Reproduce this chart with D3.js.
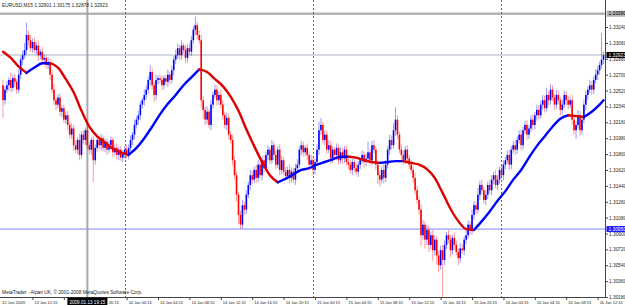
<!DOCTYPE html>
<html>
<head>
<meta charset="utf-8">
<script src="https://cdn.jsdelivr.net/npm/d3@7"></script>
<style>
	body { margin: 0; background: #fff; overflow: hidden; }
	svg { display: block; font-family: 'Liberation Sans', Arial, sans-serif; }
</style>
</head>
<body>
<svg id="chart" width="625" height="305"></svg>
<script>
// prices are kept in pips above 1.3000 (so 292 = 1.32920)
const firstOpen = 258

// M15 closes, one line = 16 bars = 4 hours, starting 13 Jan 08:30
const closes = [
	241, 253, 258, 264, 255, 266, 262, 253, 270, 287, 292, 298, 315, 309, 300, 307,
	298, 303, 292, 296, 287, 289, 281, 284, 270, 253, 241, 236, 244, 228, 232, 219,
	224, 213, 202, 209, 190, 185, 196, 179, 202, 196, 207, 190, 185, 196, 173, 187,
	196, 190, 198, 187, 194, 185, 190, 196, 182, 187, 179, 185, 176, 181, 185, 179,
	187, 196, 202, 213, 219, 224, 236, 241, 247, 253, 264, 273, 258, 247, 264, 266,
	264, 258, 266, 262, 270, 264, 275, 287, 292, 300, 292, 303, 298, 289, 300, 296,
	309, 321, 326, 315, 309, 241, 230, 219, 228, 213, 236, 247, 253, 241, 247, 236,
	224, 213, 221, 202, 196, 173, 156, 134, 111, 100, 122, 117, 134, 145, 156, 151,
	162, 153, 168, 156, 173, 164, 179, 185, 173, 190, 179, 168, 185, 162, 173, 160,
	155, 162, 153, 160, 151, 164, 168, 185, 190, 182, 187, 179, 168, 173, 162, 171,
	185, 207, 213, 196, 202, 185, 190, 175, 185, 179, 187, 173, 182, 175, 185, 171,
	168, 162, 171, 164, 160, 168, 173, 179, 171, 175, 182, 173, 190, 185, 168, 156,
	151, 162, 153, 168, 185, 196, 190, 207, 219, 202, 185, 179, 173, 185, 175, 168,
	162, 153, 139, 128, 117, 88, 100, 83, 94, 77, 88, 71, 83, 65, 54, 71,
	60, 77, 88, 83, 71, 85, 77, 69, 62, 73, 71, 83, 88, 100, 94, 111,
	122, 117, 134, 145, 139, 128, 134, 145, 139, 151, 156, 145, 151, 162, 156, 168,
	173, 179, 168, 185, 190, 185, 196, 202, 190, 207, 213, 202, 209, 219, 213, 224,
	230, 224, 236, 241, 232, 247, 241, 253, 244, 236, 247, 241, 230, 236, 247, 241,
	236, 241, 219, 207, 213, 224, 207, 219, 236, 247, 253, 258, 253, 264, 270, 275,
	281, 287, 292
]

// shadow lengths above / below the body, pips
const wickUp = [
	6, 4, 5, 3, 8, 4, 5, 3, 6, 4, 5, 8, 14, 5, 6, 4,
	5, 4, 6, 3, 5, 4, 3, 6, 4, 5, 6, 3, 4, 5, 3, 4,
	4, 5, 3, 6, 4, 5, 3, 7, 4, 5, 3, 6, 4, 3, 5, 4,
	3, 4, 5, 3, 4, 3, 5, 4, 3, 4, 5, 3, 4, 3, 4, 5,
	4, 5, 3, 6, 4, 5, 4, 3, 6, 5, 4, 8, 5, 4, 6, 3,
	4, 5, 3, 4, 6, 3, 5, 4, 6, 5, 4, 6, 3, 5, 4, 6,
	5, 4, 10, 4, 5, 6, 5, 4, 6, 3, 5, 4, 6, 5, 4, 6,
	5, 4, 6, 5, 4, 6, 5, 4, 3, 5, 6, 4, 5, 4, 6, 5,
	4, 6, 5, 4, 5, 6, 4, 5, 3, 6, 4, 5, 4, 6, 5, 4,
	5, 4, 6, 5, 4, 5, 6, 4, 5, 4, 3, 5, 4, 6, 5, 4,
	6, 10, 8, 4, 5, 4, 6, 5, 4, 3, 5, 4, 6, 5, 4, 5,
	4, 5, 4, 6, 5, 4, 3, 5, 4, 5, 12, 4, 5, 6, 4, 5,
	5, 4, 6, 5, 4, 6, 5, 8, 14, 5, 4, 6, 5, 4, 5, 4,
	5, 4, 6, 5, 4, 6, 5, 4, 6, 5, 4, 6, 5, 4, 6, 5,
	6, 5, 4, 6, 5, 4, 6, 5, 4, 6, 5, 4, 6, 5, 4, 6,
	5, 4, 8, 5, 6, 4, 5, 4, 6, 5, 4, 6, 5, 4, 6, 5,
	4, 5, 6, 4, 5, 6, 4, 5, 6, 4, 5, 6, 4, 5, 6, 4,
	6, 5, 4, 6, 5, 8, 4, 6, 5, 4, 6, 5, 4, 6, 5, 4,
	5, 4, 6, 5, 4, 6, 5, 4, 6, 5, 4, 6, 5, 4, 6, 5,
	4, 30, 4
]
const wickDown = [
	20, 5, 4, 6, 5, 4, 6, 5, 4, 5, 6, 4, 5, 6, 4, 5,
	4, 5, 6, 4, 5, 6, 4, 5, 6, 4, 5, 6, 4, 5, 6, 4,
	5, 6, 4, 5, 6, 4, 5, 6, 4, 5, 6, 4, 5, 6, 25, 5,
	4, 5, 6, 4, 5, 6, 4, 5, 6, 4, 5, 6, 4, 5, 6, 4,
	5, 4, 6, 5, 4, 6, 5, 4, 6, 5, 4, 6, 5, 8, 6, 5,
	4, 6, 5, 4, 6, 5, 4, 6, 5, 4, 6, 5, 4, 6, 5, 4,
	5, 4, 6, 5, 4, 8, 10, 6, 5, 4, 6, 5, 4, 6, 5, 4,
	5, 4, 6, 5, 4, 6, 5, 8, 10, 5, 4, 6, 5, 4, 6, 5,
	4, 6, 5, 4, 6, 5, 4, 6, 5, 4, 6, 5, 4, 6, 5, 4,
	5, 4, 6, 5, 4, 6, 5, 4, 6, 5, 4, 6, 5, 4, 6, 5,
	4, 6, 5, 4, 6, 5, 4, 6, 5, 4, 6, 5, 4, 6, 5, 4,
	5, 4, 6, 5, 4, 6, 5, 4, 6, 5, 4, 6, 5, 4, 6, 10,
	8, 4, 6, 5, 4, 6, 5, 4, 6, 5, 4, 6, 5, 4, 6, 5,
	4, 6, 5, 4, 6, 12, 5, 10, 6, 8, 5, 12, 6, 10, 8, 5,
	45, 6, 5, 4, 8, 5, 6, 4, 8, 5, 4, 6, 5, 4, 6, 5,
	6, 5, 4, 6, 5, 4, 6, 5, 4, 6, 5, 4, 6, 5, 4, 6,
	5, 4, 6, 5, 4, 6, 5, 4, 6, 5, 4, 6, 5, 4, 6, 5,
	6, 5, 4, 6, 5, 4, 6, 5, 4, 6, 5, 4, 6, 5, 4, 6,
	5, 4, 6, 5, 10, 4, 6, 5, 4, 6, 5, 4, 6, 5, 4, 6,
	5, 4, 5
]

// moving average, one value every 4 bars (last one = last bar)
const maStep = 4
const maValues = [
	296, 289, 279, 272, 278, 283, 283, 278, 265, 250, 229, 211, 200, 193, 186, 182,
	179, 187, 198, 211, 225, 237, 247, 258, 267, 276, 273, 265, 257, 245, 229, 208,
	189, 171, 156, 148, 152, 157, 162, 164, 168, 171, 174, 177, 177, 176, 173, 171,
	170, 171, 172, 172, 170, 168, 163, 153, 136, 118, 104, 95, 94, 104, 115, 127,
	138, 151, 162, 176, 189, 200, 211, 220, 224, 223, 222, 228, 236, 241
]

// right scale
const priceTicks = [1.3018, 1.3036, 1.3054, 1.3072, 1.3090, 1.3108, 1.3126, 1.3144, 1.3162,
	1.3180, 1.3198, 1.3216, 1.3234, 1.3252, 1.3270, 1.3288, 1.3306, 1.3324]
// time scale, bar index of each label
const timeBars = [15, 31, 47, 63, 79, 95, 111, 127, 143, 159, 175, 191, 207, 223, 239, 255, 271, 287, 303]
const timeLabels = ['13 Jan 12:15', '13 Jan 16:15', '13 Jan 20:15', '14 Jan 00:15', '14 Jan 04:15',
	'14 Jan 08:15', '14 Jan 12:15', '14 Jan 16:15', '14 Jan 20:15', '15 Jan 00:15', '15 Jan 04:15',
	'15 Jan 08:15', '15 Jan 12:15', '15 Jan 16:15', '15 Jan 20:15', '16 Jan 00:15', '16 Jan 04:15',
	'16 Jan 08:15', '16 Jan 12:15']
const daySeparators = [62, 158, 254]
const crossBar = 43
const crossLabel = '2009.01.13 19:15'

// horizontal levels
const levelGrey = 1.33390
const levelBlue = 1.30950
const lastPrice = 1.32923

const header = 'EURUSD,M15  1.32901  1.33175  1.32878  1.32923'
const copyright = 'MetaTrader - Alpari UK, \u00a9 2001-2008 MetaQuotes Software Corp.'

const W = 625
const H = 305
const plotR = 605.5
const plotB = 297.5
const fontSize = 4.8
const timeFontSize = 4.2
const timeW = 23
const upColor = '#0000ff'
const dnColor = '#ff0000'

const toPrice = (v) => 1.3 + v / 10000

const svg = d3.select('#chart')
svg.append('rect').attr('width', W).attr('height', H).style('fill', '#fff')

const x = d3.scaleLinear()
	.domain([0, closes.length - 1])
	.range([3, 3 + (closes.length - 1) * 1.9625])
const y = d3.scaleLinear()
	.domain([1.3018, 1.3324])
	.range([297, 27])

svg.append('clipPath').attr('id', 'plot-clip')
	.append('rect').attr('x', 0).attr('y', 0).attr('width', plotR).attr('height', plotB)

const plot = svg.append('g').attr('clip-path', 'url(#plot-clip)')

// levels & separators (behind the bars)
plot.append('line')
	.attr('x1', 0).attr('x2', plotR)
	.attr('y1', y(levelGrey)).attr('y2', y(levelGrey))
	.style('stroke', '#b4b4b4').style('stroke-width', 2.5)
plot.append('line')
	.attr('x1', 0).attr('x2', plotR)
	.attr('y1', y(lastPrice)).attr('y2', y(lastPrice))
	.style('stroke', '#a9b3c6').style('stroke-width', 1)
plot.append('line')
	.attr('x1', 0).attr('x2', plotR)
	.attr('y1', y(levelBlue)).attr('y2', y(levelBlue))
	.style('stroke', '#7a86ff').style('stroke-width', 1)
plot.selectAll('line.sep')
	.data(daySeparators)
	.enter().append('line')
		.attr('class', 'sep')
		.attr('x1', (d) => Math.round(x(d)) + 0.5).attr('x2', (d) => Math.round(x(d)) + 0.5)
		.attr('y1', 0).attr('y2', plotB)
		.style('stroke', '#666').style('stroke-width', 1).style('stroke-dasharray', '2,2')
plot.append('line')
	.attr('x1', x(crossBar)).attr('x2', x(crossBar))
	.attr('y1', 0).attr('y2', plotB)
	.style('stroke', '#a8a8a8').style('stroke-width', 2)

// candles
const candles = closes.map((c, i) => {
	const o = i === 0 ? firstOpen : closes[i - 1]
	return {
		i: i,
		open: toPrice(o),
		close: toPrice(c),
		high: toPrice(Math.max(o, c) + wickUp[i]),
		low: toPrice(Math.min(o, c) - wickDown[i])
	}
})

const bars = plot.append('g').selectAll('g')
	.data(candles)
	.enter().append('g')

bars.append('line')
	.attr('x1', (d) => x(d.i)).attr('x2', (d) => x(d.i))
	.attr('y1', (d) => y(d.high)).attr('y2', (d) => y(d.low))
	.style('stroke', (d) => d.close >= d.open ? upColor : dnColor)
	.style('stroke-opacity', 0.4)
	.style('stroke-width', 1)

bars.append('rect')
	.attr('x', (d) => x(d.i) - 0.8)
	.attr('width', 1.6)
	.attr('y', (d) => y(Math.max(d.open, d.close)))
	.attr('height', (d) => Math.max(0.8, Math.abs(y(d.open) - y(d.close))))
	.style('fill', (d) => d.close >= d.open ? upColor : dnColor)

// moving average, coloured by direction
const maPts = maValues.map((v, k) => ({ bar: Math.min(k * maStep, closes.length - 1), price: toPrice(v) }))
const runs = []
for (let k = 0; k < maPts.length - 1; k++) {
	const col = maPts[k + 1].price >= maPts[k].price ? upColor : '#dd0000'
	if (runs.length && runs[runs.length - 1].col === col) runs[runs.length - 1].pts.push(maPts[k + 1])
	else runs.push({ col: col, pts: [maPts[k], maPts[k + 1]] })
}
const maLine = d3.line()
	.x((d) => x(d.bar))
	.y((d) => y(d.price))
	.curve(d3.curveMonotoneX)

plot.append('g').selectAll('path')
	.data(runs)
	.enter().append('path')
		.attr('d', (r) => maLine(r.pts))
		.style('fill', 'none')
		.style('stroke', (r) => r.col)
		.style('stroke-width', 2.4)
		.style('stroke-linecap', 'round')

// frame
svg.append('line')
	.attr('x1', plotR).attr('x2', plotR).attr('y1', 0).attr('y2', plotB)
	.style('stroke', '#444').style('stroke-width', 1)
svg.append('line')
	.attr('x1', 0).attr('x2', plotR).attr('y1', plotB).attr('y2', plotB)
	.style('stroke', '#444').style('stroke-width', 1)

// right axis
const yAxis = svg.append('g')
	.attr('transform', 'translate(' + plotR + ',0)')
	.call(d3.axisRight(y).tickValues(priceTicks).tickSize(2.5).tickPadding(1).tickFormat(d3.format('.5f')))
yAxis.select('.domain').remove()
yAxis.selectAll('line').style('stroke', '#444')
yAxis.selectAll('text')
	.style('font-size', fontSize + 'px')
	.style('font-family', 'Liberation Sans, Arial, sans-serif')
	.style('fill', '#222')

// crosshair time label box, the labels under it are hidden
const crossX = x(crossBar)
const boxL = crossX - 20
const boxR = crossX + 20

// bottom axis
const xAxis = svg.append('g')
	.attr('transform', 'translate(0,' + plotB + ')')
	.call(d3.axisBottom(x).tickValues(timeBars).tickSize(2.5).tickFormat((d, i) => timeLabels[i]))
xAxis.select('.domain').remove()
xAxis.selectAll('line').style('stroke', '#444')
xAxis.selectAll('text')
	.attr('x', 1.5).attr('y', 6).attr('dy', 0)
	.attr('textLength', timeW).attr('lengthAdjust', 'spacingAndGlyphs')
	.style('text-anchor', 'start')
	.style('font-size', timeFontSize + 'px')
	.style('fill', '#222')
xAxis.selectAll('.tick').each(function(d, i) {
	const tx = x(d)
	const t = d3.select(this).select('text')
	if (tx + 1.5 + timeW < boxL) return
	if (tx > boxR) return
	// partly covered: only the hour part is left visible, right of the box
	if (tx + 1.5 + timeW > boxR + 8) {
		t.attr('x', boxR - tx + 1).attr('textLength', 10).text(timeLabels[i].split(' ')[2])
	} else t.remove()
})
svg.append('text')
	.attr('x', 2).attr('y', plotB + 6)
	.attr('textLength', 23).attr('lengthAdjust', 'spacingAndGlyphs')
	.style('font-size', timeFontSize + 'px').style('fill', '#222')
	.text('12 Jan 2009')

// highlighted price labels
function priceTag(p, bg, fg, label) {
	const g = svg.append('g').attr('transform', 'translate(' + (plotR + 1) + ',' + y(p) + ')')
	g.append('rect').attr('x', 0).attr('y', -3).attr('width', 20).attr('height', 6).style('fill', bg)
	g.append('text').attr('x', 2).attr('y', 1.7)
		.style('font-size', fontSize + 'px').style('fill', fg)
		.text(label)
}
priceTag(levelGrey, '#b4b4b4', '#000', d3.format('.5f')(levelGrey))
priceTag(lastPrice, '#000', '#fff', d3.format('.5f')(lastPrice))
priceTag(levelBlue, '#1a1aff', '#fff', d3.format('.5f')(levelBlue))

const tl = svg.append('g').attr('transform', 'translate(' + crossX + ',' + plotB + ')')
tl.append('rect').attr('x', -20).attr('y', 0).attr('width', 40).attr('height', 8).style('fill', '#000')
tl.append('text').attr('x', 0).attr('y', 6)
	.attr('textLength', 36).attr('lengthAdjust', 'spacingAndGlyphs')
	.style('text-anchor', 'middle').style('font-size', fontSize + 'px').style('fill', '#fff')
	.text(crossLabel)

// header & copyright
svg.append('text').attr('x', 2).attr('y', 7)
	.style('font-size', fontSize + 'px').style('fill', '#222')
	.text(header)
svg.append('text').attr('x', 2).attr('y', 294)
	.style('font-size', fontSize + 'px').style('fill', '#222')
	.text(copyright)
</script>
</body>
</html>
